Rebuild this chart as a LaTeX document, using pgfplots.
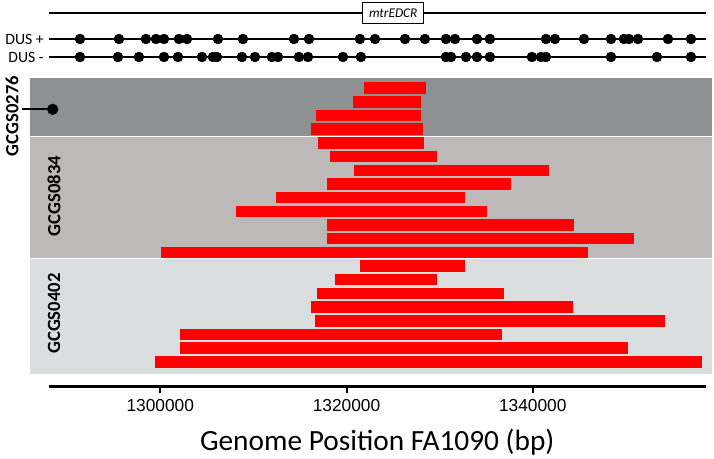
\documentclass[border=0pt]{standalone}
\usepackage{fontspec}
\setmainfont{Carlito}
\newfontfamily\tickfont{Liberation Sans}
\usepackage{pgfplots}
\usepackage{pgfplotstable}
\pgfplotsset{compat=1.18}

\definecolor{panelA}{RGB}{143,144,145}
\definecolor{panelB}{RGB}{189,185,184}
\definecolor{panelC}{RGB}{219,222,223}

% fragments: start, end, row position
\pgfplotstableread{
start end y
1321870 1328520 369.8
1320710 1327980 356.1
1316770 1327980 342.4
1316200 1328250 328.8
1316890 1328370 315.1
1318240 1329720 301.4
1320760 1341770 287.7
1317860 1337640 274.0
1312410 1332730 260.4
1308130 1335120 246.7
1317900 1344390 233.0
1317900 1350920 219.3
1300100 1345940 205.6
1321490 1332770 192.0
1318750 1329760 178.3
1316860 1336860 164.6
1316240 1344320 150.9
1316670 1354160 137.2
1302140 1336670 123.6
1302140 1350230 109.9
1299430 1358220 96.2
}\fragments

\begin{document}
\begin{tikzpicture}
\useasboundingbox (0,0) rectangle (535.5pt,343.5pt);
\begin{axis}[
  at={(36.375pt,54pt)}, anchor=south west,
  scale only axis, width=493.1pt, height=279.75pt,
  xmin=1288000, xmax=1358600, ymin=72, ymax=445,
  enlargelimits=false, clip=false,
  axis x line*=bottom, axis y line=none,
  x axis line style={line width=2.25pt},
  xtick={1300000,1320000,1340000},
  xticklabels={1300000,1320000,1340000},
  scaled x ticks=false,
  tick align=outside, major tick length=5.25pt,
  tick style={line width=1.5pt, black},
  xticklabel style={font=\tickfont\fontsize{13}{15}\selectfont, yshift=-1pt},
  xlabel={Genome Position FA1090 (bp)},
  xlabel style={font=\fontsize{22}{26}\selectfont, at={(axis description cs:0.5,0)}, anchor=base, yshift=-48pt},
]
% panels
\addplot[fill=panelA, draw=white, line width=0.75pt] coordinates {(1286010,381) (1359350,381) (1359350,322) (1286010,322)} -- cycle;
\addplot[fill=panelB, draw=white, line width=0.75pt] coordinates {(1286010,322) (1359350,322) (1359350,200) (1286010,200)} -- cycle;
\addplot[fill=panelC, draw=white, line width=0.75pt] coordinates {(1286010,200) (1359350,200) (1359350,84) (1286010,84)} -- cycle;

% fragments
\addplot[draw=none, no marks, error bars/.cd, x dir=plus, x explicit, error mark=none,
  error bar style={draw=red, line width=8.6pt, line cap=butt}]
  table[x=start, y=y, x error expr=\thisrow{end}-\thisrow{start}] {\fragments};

% gene track
\addplot[black, line width=2pt, no marks] coordinates {(1288000,445) (1358600,445)};
% DUS tracks
\addplot[black, line width=2pt, no marks] coordinates {(1288000,419) (1358600,419)};
\addplot[black, line width=2pt, no marks] coordinates {(1288000,401) (1358600,401)};
\addplot[black, only marks, mark=*, mark size=3.7pt] coordinates {
(1291380,419) (1295570,419) (1298460,419) (1299540,419) (1300400,419) (1302010,419)
(1302870,419) (1306200,419) (1308880,419) (1314360,419) (1315970,419) (1321440,419)
(1323060,419) (1326280,419) (1328420,419) (1330680,419) (1331650,419) (1334010,419)
(1335400,419) (1341420,419) (1342380,419) (1345500,419) (1348400,419) (1349790,419)
(1350330,419) (1351300,419) (1354520,419) (1356990,419)};
\addplot[black, only marks, mark=*, mark size=3.7pt] coordinates {
(1291380,401) (1295460,401) (1297710,401) (1300400,401) (1301900,401) (1304480,401)
(1305660,401) (1306090,401) (1308770,401) (1310170,401) (1311990,401) (1312640,401)
(1314890,401) (1315860,401) (1319620,401) (1321550,401) (1330680,401) (1331220,401)
(1332830,401) (1334010,401) (1335400,401) (1339910,401) (1340880,401) (1341420,401)
(1348400,401) (1353340,401) (1356990,401)};
% GCGS0276 marker
\addplot[black, line width=1.5pt, no marks] coordinates {(1285120,348.7) (1288450,348.7)};
\addplot[black, only marks, mark=*, mark size=4pt] coordinates {(1288450,348.7)};

\node[draw=black, line width=0.75pt, fill=white, minimum width=45.5pt, minimum height=15.5pt, inner sep=1pt,
  font=\itshape\fontsize{10}{12}\selectfont] at (axis cs:1325020,445) {mtrEDCR};
\node[anchor=east, font=\fontsize{11.8}{13}\selectfont] at (axis cs:1288000,419) {DUS +};
\node[anchor=east, font=\fontsize{11.8}{13}\selectfont] at (axis cs:1288000,401) {DUS -};
\node[rotate=90, font=\bfseries\fontsize{14}{16}\selectfont] at (axis cs:1284080,342) {GCGS0276};
\node[rotate=90, font=\bfseries\fontsize{14}{16}\selectfont] at (axis cs:1288590,262) {GCGS0834};
\node[rotate=90, font=\bfseries\fontsize{14}{16}\selectfont] at (axis cs:1288590,144.5) {GCGS0402};
\end{axis}
\end{tikzpicture}
\end{document}
